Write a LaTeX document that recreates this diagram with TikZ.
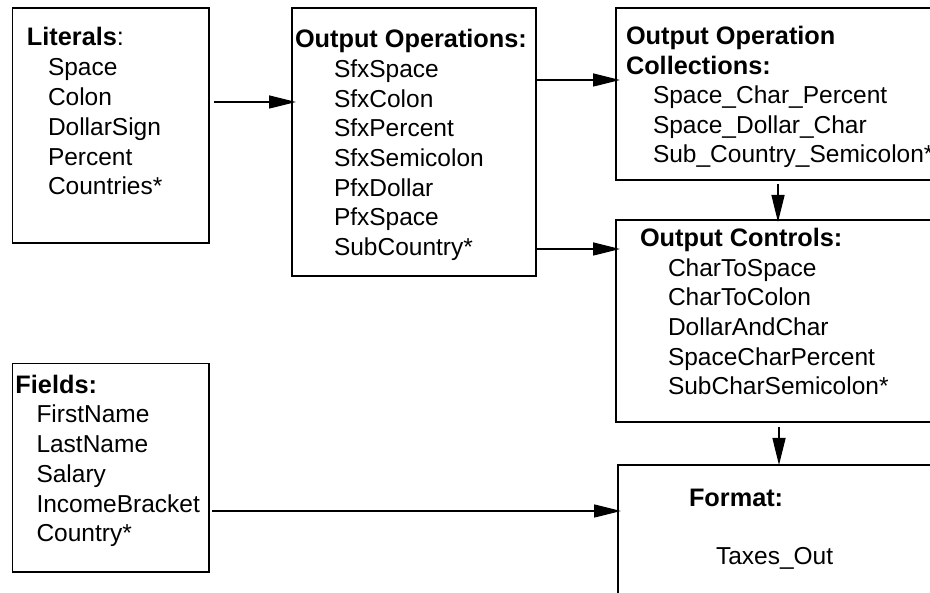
\documentclass[tikz,border=0pt]{standalone}
\usepackage{fontspec}
\setmainfont{Liberation Sans}
\usetikzlibrary{arrows.meta,calc}
\begin{document}
\begin{tikzpicture}[x=1pt,y=-1pt,
  box/.style={draw=black,line width=1.3pt,inner sep=0pt,outer sep=0pt},
  txt/.style={anchor=base west,inner sep=0pt,outer sep=0pt,font=\fontsize{24.5}{29}\selectfont},
  ttl/.style={anchor=base west,inner sep=0pt,outer sep=0pt,font=\fontsize{25.3}{29}\selectfont\bfseries},
  arr/.style={line width=1.3pt,-{Triangle[length=27pt,width=13pt]}}]
\useasboundingbox (0,0) rectangle (930,593);
\fill[white] (0,0) rectangle (930,593);
\clip (0,0) rectangle (930,593);
% boxes
\node[box,minimum width=196.5pt,minimum height=235pt] (lit) at (110.75,125.5) {};
\node[box,minimum width=244pt,minimum height=268pt] (oo) at (414,142) {};
\node[box,minimum width=329pt,minimum height=172pt] (ooc) at (780.5,94) {};
\node[box,minimum width=329pt,minimum height=202pt] (oc) at (780.5,321) {};
\node[box,minimum width=327pt,minimum height=135pt] (fmt) at (781.5,532.5) {};
\node[box,minimum width=196.5pt,minimum height=208.5pt] (fld) at (110.75,467.75) {};
% Literals
\node[ttl] (litT) at (27,46) {Literals\mdseries:};
\foreach \t [count=\i] in {Space,Colon,DollarSign,Percent,Countries*}
  \node[txt] (lit\i) at (48,46+29.8*\i) {\t};
% Output Operations
\node[ttl] (ooT) at (295,47.7) {Output Operations:};
\foreach \t [count=\i] in {SfxSpace,SfxColon,SfxPercent,SfxSemicolon,PfxDollar,PfxSpace,SubCountry*}
  \node[txt] (oo\i) at (334,47.7+29.7*\i) {\t};
% Output Operation Collections
\node[ttl] (oocT1) at (626,45) {Output Operation};
\node[ttl] (oocT2) at (626,74.5) {Collections:};
\foreach \t [count=\i] in {Space\_Char\_Percent,Space\_Dollar\_Char,Sub\_Country\_Semicolon*}
  \node[txt] (ooc\i) at (653,74.5+29.5*\i) {\t};
% Output Controls
\node[ttl] (ocT) at (640,246.7) {Output Controls:};
\foreach \t [count=\i] in {CharToSpace,CharToColon,DollarAndChar,SpaceCharPercent,SubCharSemicolon*}
  \node[txt] (oc\i) at (668,246.7+29.6*\i) {\t};
% Format
\node[ttl] (fmtT) at (689,506.7) {Format:};
\node[txt] (fmt1) at (716,565) {Taxes\_Out};
% Fields
\node[ttl] (fldT) at (15.5,393.3) {Fields:};
\foreach \t [count=\i] in {FirstName,LastName,Salary,IncomeBracket,Country*}
  \node[txt] (fld\i) at (36.5,393.3+29.7*\i) {\t};
% connectors
\draw[arr] ($(lit.east |- 0,102)+(5,0)$) -- ($(oo.west |- 0,102)+(4,0)$);
\draw[arr] ($(oo.east |- 0,80)+(1,0)$) -- ($(ooc.west |- 0,80)+(4,0)$);
\draw[arr] ($(oo.east |- 0,249)+(1,0)$) -- ($(oc.west |- 0,249)+(4,0)$);
\draw[arr] ($(ooc.south -| 778,0)+(0,4)$) -- ($(oc.north -| 778,0)+(0,2)$);
\draw[arr] ($(oc.south -| 779,0)+(0,5)$) -- (fmt.north -| 779,0);
\draw[arr] ($(fld.east |- 0,511)+(3,0)$) -- ($(fmt.west |- 0,511)+(3,0)$);
\end{tikzpicture}
\end{document}
